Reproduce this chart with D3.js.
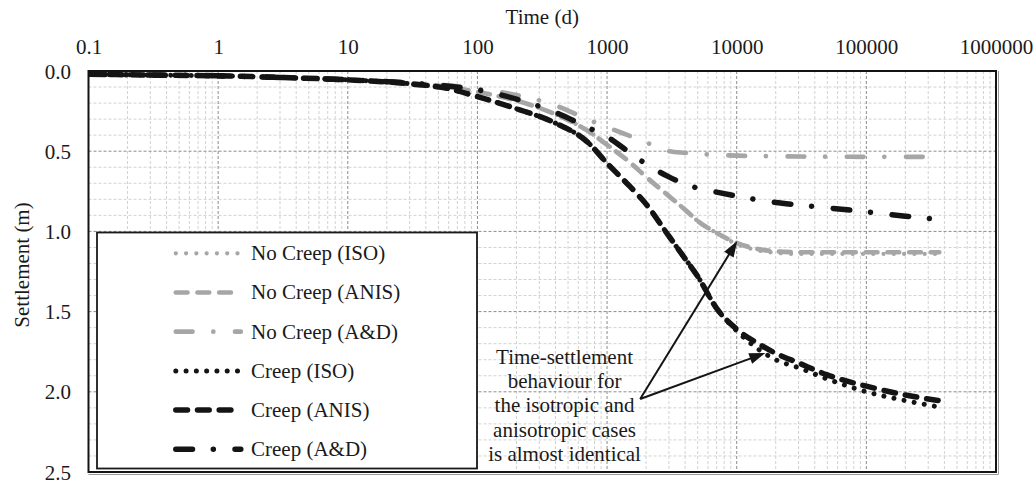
<!DOCTYPE html>
<html>
<head>
<meta charset="utf-8">
<script src="https://cdn.jsdelivr.net/npm/d3@7/dist/d3.min.js"></script>
<style>
  html, body { margin: 0; padding: 0; background: #fff; }
  svg { display: block; }
  text { font-family: "Liberation Serif", "Times New Roman", serif; fill: #1a1a1a; }
</style>
</head>
<body>
<svg id="chart" width="1035" height="481"></svg>
<script>
// ---------------- DATA ----------------
const times = [0.1, 0.3, 1, 3, 10, 30, 60, 100, 200, 400, 700, 1000, 1500, 2000, 3000, 4000, 5000, 7000, 10000, 15000, 20000, 30000, 50000, 100000, 200000, 365000];

const noCreepISO  = [0.02, 0.025, 0.03, 0.04, 0.055, 0.075, 0.10, 0.13, 0.185, 0.27, 0.37, 0.46, 0.57, 0.66, 0.78, 0.865, 0.935, 1.01, 1.078, 1.12, 1.133, 1.14, 1.14, 1.14, 1.14, 1.14];
const noCreepANIS = [0.02, 0.025, 0.03, 0.04, 0.055, 0.075, 0.10, 0.13, 0.185, 0.27, 0.37, 0.46, 0.57, 0.66, 0.78, 0.865, 0.935, 1.01, 1.072, 1.112, 1.124, 1.13, 1.13, 1.13, 1.13, 1.13];
const noCreepAD   = [0.02, 0.025, 0.03, 0.04, 0.055, 0.073, 0.09, 0.11, 0.15, 0.215, 0.30, 0.35, 0.405, 0.445, 0.50, 0.51, 0.516, 0.523, 0.528, 0.53, 0.532, 0.533, 0.534, 0.535, 0.535, 0.535];
const creepISO    = [0.02, 0.025, 0.03, 0.04, 0.055, 0.08, 0.11, 0.16, 0.235, 0.325, 0.44, 0.575, 0.72, 0.83, 1.03, 1.17, 1.28, 1.48, 1.62, 1.74, 1.80, 1.85, 1.92, 2.00, 2.055, 2.095];
const creepANIS   = [0.02, 0.025, 0.03, 0.04, 0.055, 0.08, 0.11, 0.16, 0.235, 0.325, 0.44, 0.575, 0.72, 0.83, 1.03, 1.17, 1.28, 1.48, 1.61, 1.705, 1.76, 1.82, 1.895, 1.965, 2.02, 2.055];
const creepAD     = [0.02, 0.025, 0.03, 0.04, 0.055, 0.075, 0.095, 0.118, 0.175, 0.258, 0.35, 0.41, 0.51, 0.58, 0.66, 0.705, 0.73, 0.755, 0.78, 0.805, 0.82, 0.835, 0.853, 0.878, 0.905, 0.925];

const seriesNames = ["No Creep (ISO)", "No Creep (ANIS)", "No Creep (A&D)", "Creep (ISO)", "Creep (ANIS)", "Creep (A&D)"];
const xTickValues = [0.1, 1, 10, 100, 1000, 10000, 100000, 1000000];
const xTickLabels = ["0.1", "1", "10", "100", "1000", "10000", "100000", "1000000"];
const yTickValues = [0, 0.5, 1.0, 1.5, 2.0, 2.5];
const yTickLabels = ["0.0", "0.5", "1.0", "1.5", "2.0", "2.5"];

const annotationLines = ["Time-settlement", "behaviour for", "the isotropic and", "anisotropic cases", "is almost identical"];
// arrow: start (t, s) and tips (t, s)
const arrowStart = [1800, 2.045];
const arrowTips = [[10100, 1.06], [16600, 1.758]];
const annotationAnchor = [470, 1.827];

// ---------------- STYLES ----------------
const GRAY = "#a6a6a6", BLACK = "#141414";
const DOT = "0.01,10.27", DASH = "11.7,10", DASHDOT = "16.7,20.8,0.01,21.7";
const styles = [
  { color: GRAY,  width: 4.3, dash: DOT },
  { color: GRAY,  width: 4.7, dash: DASH },
  { color: GRAY,  width: 4.7, dash: DASHDOT },
  { color: BLACK, width: 5,   dash: DOT },
  { color: BLACK, width: 5.5, dash: DASH },
  { color: BLACK, width: 5.5, dash: DASHDOT }
];
const seriesValues = [noCreepISO, noCreepANIS, noCreepAD, creepISO, creepANIS, creepAD];

// ---------------- LAYOUT ----------------
const svg = d3.select("#chart");
const L = 88.5, R = 996, T = 71, B = 472;
const x = d3.scaleLog().domain([0.1, 1000000]).range([L, R]);
const y = d3.scaleLinear().domain([0, 2.5]).range([T, B]);

// grid
const grid = svg.append("g");
const minorX = [];
for (let e = -1; e < 6; e++) for (let k = 2; k <= 9; k++) minorX.push(k * Math.pow(10, e));
const minorY = d3.range(0, 26).map(i => i / 10).filter(v => Math.abs(v * 2 - Math.round(v * 2)) > 1e-6);
grid.selectAll(".mx").data(minorX).enter().append("line")
  .attr("x1", d => x(d)).attr("x2", d => x(d)).attr("y1", T).attr("y2", B)
  .attr("stroke", "#d2d2d2").attr("stroke-width", 1).attr("stroke-dasharray", "3,2");
grid.selectAll(".my").data(minorY).enter().append("line")
  .attr("x1", L).attr("x2", R).attr("y1", d => y(d)).attr("y2", d => y(d))
  .attr("stroke", "#d2d2d2").attr("stroke-width", 1).attr("stroke-dasharray", "3,2");
grid.selectAll(".Mx").data(xTickValues.slice(1, -1)).enter().append("line")
  .attr("x1", d => x(d)).attr("x2", d => x(d)).attr("y1", T).attr("y2", B)
  .attr("stroke", "#8c8c8c").attr("stroke-width", 1).attr("stroke-dasharray", "3,2");
grid.selectAll(".My").data(yTickValues.slice(1, -1)).enter().append("line")
  .attr("x1", L).attr("x2", R).attr("y1", d => y(d)).attr("y2", d => y(d))
  .attr("stroke", "#8c8c8c").attr("stroke-width", 1).attr("stroke-dasharray", "3,2");

// axes (labels only)
const xAxis = d3.axisTop(x).tickValues(xTickValues).tickFormat((d, i) => xTickLabels[i]).tickSize(0).tickPadding(0);
const gx = svg.append("g").attr("transform", `translate(0,${T})`).call(xAxis);
gx.select(".domain").remove();
gx.selectAll("text").attr("font-size", 21).attr("font-family", "Liberation Serif, serif")
  .attr("fill", "#1a1a1a").attr("y", 54 - T).attr("dy", 0);

const yAxis = d3.axisLeft(y).tickValues(yTickValues).tickFormat((d, i) => yTickLabels[i]).tickSize(0).tickPadding(0);
const gy = svg.append("g").attr("transform", `translate(${L},0)`).call(yAxis);
gy.select(".domain").remove();
gy.selectAll("text").attr("font-size", 21).attr("font-family", "Liberation Serif, serif")
  .attr("fill", "#1a1a1a").attr("x", 71 - L).attr("dy", "0.34em");

svg.append("text").attr("x", (L + R) / 2).attr("y", 24).attr("text-anchor", "middle")
  .attr("font-size", 21).text("Time (d)");
svg.append("text").attr("transform", `translate(29,${265}) rotate(-90)`).attr("text-anchor", "middle")
  .attr("font-size", 21).text("Settlement (m)");

// clip
svg.append("defs").append("clipPath").attr("id", "clip").append("rect")
  .attr("x", L).attr("y", T).attr("width", R - L).attr("height", B - T);

// lines
const line = d3.line().x(d => x(d[0])).y(d => y(d[1])).curve(d3.curveMonotoneX);
const lines = svg.append("g").attr("clip-path", "url(#clip)");
seriesValues.forEach((vals, i) => {
  const pts = times.map((t, j) => [t, vals[j]]);
  lines.append("path").attr("d", line(pts)).attr("fill", "none")
    .attr("stroke", styles[i].color).attr("stroke-width", styles[i].width)
    .attr("stroke-dasharray", styles[i].dash).attr("stroke-linecap", "round")
    .attr("stroke-linejoin", "round");
});

// plot border
svg.append("line").attr("x1", L).attr("x2", R + 2).attr("y1", B + 2.5).attr("y2", B + 2.5).attr("stroke", "#9a9a9a").attr("stroke-width", 1);
svg.append("line").attr("x1", R + 2.5).attr("x2", R + 2.5).attr("y1", T).attr("y2", B + 2.5).attr("stroke", "#9a9a9a").attr("stroke-width", 1);
svg.append("rect").attr("x", L).attr("y", T).attr("width", R - L).attr("height", B - T)
  .attr("fill", "none").attr("stroke", "#141414").attr("stroke-width", 2);

// legend
const lg = svg.append("g");
lg.append("rect").attr("x", 97).attr("y", 232.5).attr("width", 380).attr("height", 236)
  .attr("fill", "#fff").attr("stroke", "#1a1a1a").attr("stroke-width", 1.8);
seriesNames.forEach((name, i) => {
  const cy = 253.3 + i * 39.2;
  lg.append("line").attr("x1", 175.8).attr("x2", 240.8).attr("y1", cy).attr("y2", cy)
    .attr("stroke", styles[i].color).attr("stroke-width", styles[i].width)
    .attr("stroke-dasharray", styles[i].dash).attr("stroke-linecap", "round");
  lg.append("text").attr("x", 251).attr("y", cy).attr("dy", "0.33em").attr("font-size", 21).text(name);
});

// annotation
const ann = svg.append("g");
annotationLines.forEach((txt, i) => {
  ann.append("text").attr("x", x(annotationAnchor[0])).attr("y", y(annotationAnchor[1]) + i * 24.2)
    .attr("text-anchor", "middle").attr("font-size", 21).text(txt);
});
const sx = x(arrowStart[0]), sy = y(arrowStart[1]);
arrowTips.forEach(tp => {
  const tx = x(tp[0]), ty = y(tp[1]);
  const dx = tx - sx, dy = ty - sy, len = Math.hypot(dx, dy);
  const ux = dx / len, uy = dy / len;
  const hl = 16, hw = 5.5;
  const bx = tx - ux * hl, by = ty - uy * hl;
  ann.append("line").attr("x1", sx).attr("y1", sy).attr("x2", bx + ux * 2).attr("y2", by + uy * 2)
    .attr("stroke", "#141414").attr("stroke-width", 2);
  ann.append("path")
    .attr("d", `M${tx},${ty} L${bx - uy * hw},${by + ux * hw} L${bx + uy * hw},${by - ux * hw} Z`)
    .attr("fill", "#141414");
});
</script>
</body>
</html>
